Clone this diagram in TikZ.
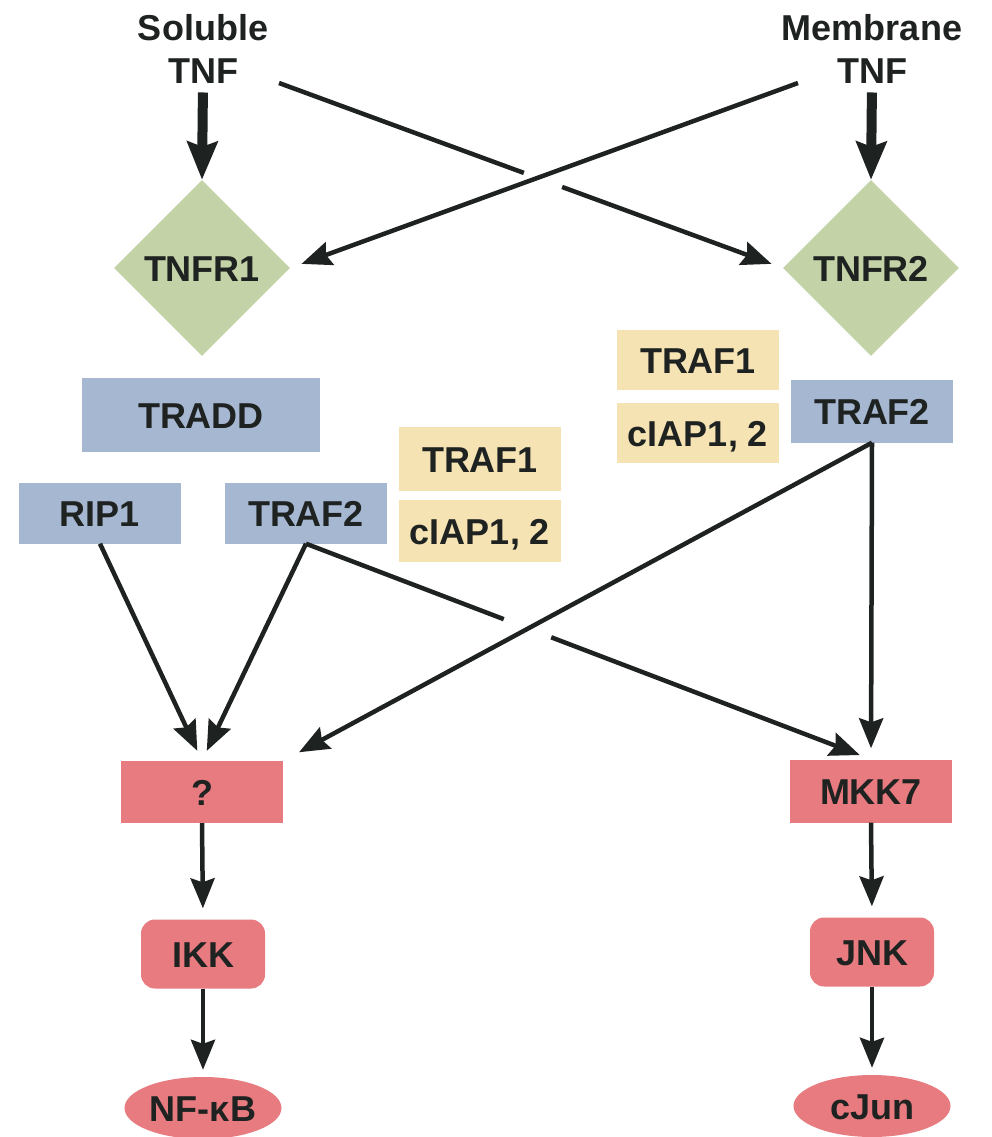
\documentclass[tikz,border=0pt]{standalone}
\usepackage{fontspec}
\setmainfont{Liberation Sans}
\usetikzlibrary{arrows.meta,shapes.geometric,calc}
\definecolor{grn}{HTML}{C4D2A7}
\definecolor{blu}{HTML}{A6B7D2}
\definecolor{yel}{HTML}{F6E3B4}
\definecolor{pnk}{HTML}{E77B80}
\definecolor{ink}{HTML}{1E2220}
\begin{document}
\begin{tikzpicture}[x=1pt,y=-1pt,
  lbl/.style={font=\fontsize{36}{43}\selectfont\bfseries, text=ink, inner sep=0pt},
  box/.style={lbl, rectangle, text height=26pt, text depth=0pt},
  bluebox/.style={box, fill=blu},
  yelbox/.style={box, fill=yel},
  redbox/.style={box, fill=pnk},
  rbox/.style={box, fill=pnk, rounded corners=14pt, minimum width=124pt, minimum height=69pt},
  oval/.style={box, ellipse, fill=pnk, minimum width=157pt, minimum height=62pt},
  recep/.style={lbl, diamond, aspect=1, fill=grn, minimum width=176pt, minimum height=176pt, text height=26pt, text depth=0pt},
  conn/.style={draw=ink, line width=4.5pt},
  arr/.style={conn, -{Stealth[length=30pt,width=24pt,inset=4pt]}},
  bigarr/.style={draw=ink, line width=10pt, -{Stealth[length=38pt,width=30pt,inset=5pt]}}
]
\useasboundingbox (0,0) rectangle (991,1137);

% top labels
\node[lbl, align=center, anchor=north] (sol) at (203,14) {Soluble\\TNF};
\node[lbl, align=center, anchor=north] (mem) at (872,14) {Membrane\\TNF};

% receptors
\node[recep] (tnfr1) at (202,268) {TNFR1};
\node[recep] (tnfr2) at (871,268) {TNFR2};

% adaptors
\node[bluebox, minimum width=238pt, minimum height=74pt] (tradd) at (201,415) {TRADD};
\node[bluebox, minimum width=162pt, minimum height=61pt] (rip1) at (100,513) {RIP1};
\node[bluebox, minimum width=162pt, minimum height=61pt] (traf2L) at (306,513) {TRAF2};
\node[yelbox, minimum width=162pt, minimum height=64pt] (traf1L) at (480,459) {TRAF1};
\node[yelbox, minimum width=162pt, minimum height=62pt] (ciapL) at (480,531) {cIAP1, 2};
\node[yelbox, minimum width=162pt, minimum height=60pt] (traf1R) at (698,360) {TRAF1};
\node[yelbox, minimum width=162pt, minimum height=60pt] (ciapR) at (698,433) {cIAP1, 2};
\node[bluebox, minimum width=162pt, minimum height=63pt] (traf2R) at (872,411) {TRAF2};

% kinases
\node[redbox, minimum width=162pt, minimum height=62pt] (q) at (202,792) {?};
\node[redbox, minimum width=162pt, minimum height=63pt] (mkk7) at (871,791) {MKK7};
\node[rbox] (ikk) at (203,954) {IKK};
\node[rbox] (jnk) at (872,952) {JNK};
\node[oval] (nfkb) at (203,1108) {NF-κB};
\node[oval] (cjun) at (872,1106) {cJun};

% start points of the crossing lines
\coordinate (a1) at (279,83);
\coordinate (b1) at (798,83);

% thick arrows
\draw[bigarr, shorten <=9pt] (sol.south) -- (tnfr1.north);
\draw[bigarr, shorten <=9pt] (mem.south) -- (tnfr2.north);

% crossing lines at the top
\draw[conn] (a1) -- ($(a1)!0.486!(tnfr2.west)$);
\draw[arr, shorten >=12pt] ($(a1)!0.562!(tnfr2.west)$) -- (tnfr2.west);
\draw[arr, shorten >=12pt] (b1) -- (tnfr1.east);

% lower connectors
\draw[arr, shorten >=11pt] (rip1.south) -- (q.north);
\draw[arr, shorten >=11pt] (traf2L.south) -- (q.north);
\draw[conn] (traf2L.south) -- ($(traf2L.south)!0.350!(mkk7.north)$);
\draw[arr, shorten >=12pt] ($(traf2L.south)!0.434!(mkk7.north)$) -- (mkk7.north);
\draw[arr, shorten >=18pt] (traf2R.south) -- (q.north east);
\draw[arr, shorten >=11pt] (traf2R.south) -- (mkk7.north);

% cascades
\draw[arr, shorten >=11pt] (q.south) -- (ikk.north);
\draw[arr, shorten >=7pt] (ikk.south) -- (nfkb.north);
\draw[arr, shorten >=11pt] (mkk7.south) -- (jnk.north);
\draw[arr, shorten >=7pt] (jnk.south) -- (cjun.north);
\end{tikzpicture}
\end{document}
